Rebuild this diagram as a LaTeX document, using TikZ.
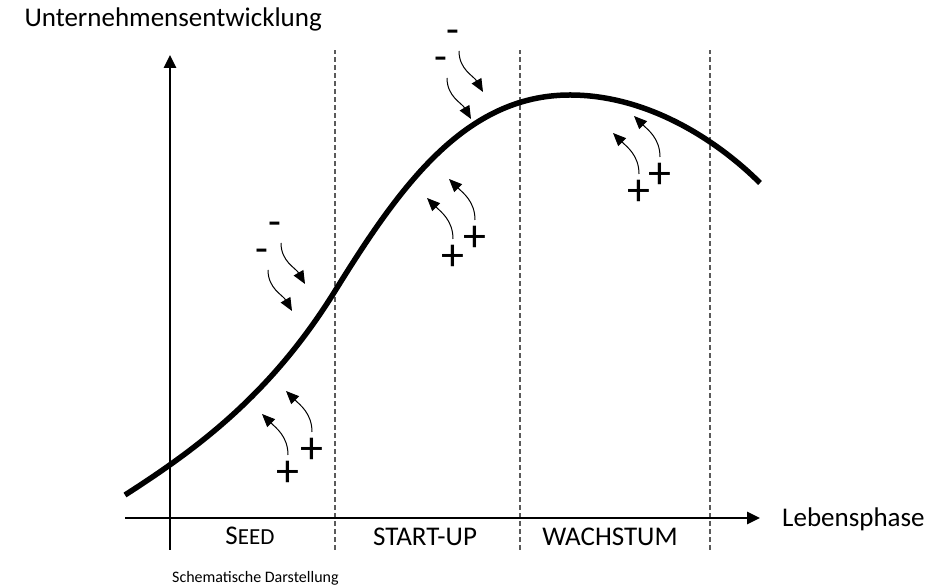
\documentclass[tikz,border=0pt]{standalone}
\usepackage{fontspec}
\setmainfont{Carlito}
\definecolor{dashgray}{RGB}{90, 90, 90}
\usetikzlibrary{arrows.meta, positioning}
\tikzset{
	axis/.style={line width=2.6pt, draw=black, -{Triangle[length=13pt, width=12pt]}},
	phaseline/.style={line width=1.1pt, draw=dashgray, dash pattern=on 5pt off 3pt},
	lifecurve/.style={line width=5.5pt, draw=black, line cap=butt},
	swirl/.style={line width=1pt, draw=black, -{Triangle[length=13pt, width=11pt]}},
	minus/.style={inner sep=0pt, font=\fontsize{42}{42}\selectfont},
	plus/.style={inner sep=0pt, font=\fontsize{46}{46}\selectfont},
	axislabel/.style={inner sep=0pt, font=\fontsize{27}{30}\selectfont},
	phaselabel/.style={inner sep=0pt, anchor=base, font=\fontsize{27}{30}\selectfont},
	note/.style={inner sep=0pt, anchor=base west, font=\fontsize{16}{19}\selectfont},
}
\begin{document}
\begin{tikzpicture}[x=1pt, y=1pt]
		\useasboundingbox (0,0) rectangle (933,588);
		% phases
		\draw[phaseline] (335,38) -- (335,538);
		\draw[phaseline] (520,38) -- (520,538);
		\draw[phaseline] (710,38) -- (710,538);
		% axes
		\coordinate (ybot) at (170,38);
		\coordinate (ytop) at (170,533);
		\coordinate (xleft) at (125,70);
		\coordinate (xright) at (760,70);
		\draw[axis] (ybot) -- (ytop);
		\draw[axis] (xleft) -- (xright);
		\node[axislabel, anchor=base east] (ylabel) at (322,561) {Unternehmensentwicklung};
		\node[axislabel, anchor=base west] (xlabel) at (782,61) {Lebensphase};
		% life cycle
		\draw[lifecurve] (125,93) .. controls (195,138) and (270,192) .. (335,297)
			.. controls (400,402) and (465,493) .. (570,493)
			.. controls (650,493) and (720,445) .. (760,405);
		\node[phaselabel] (seed) at (250,43) {S{\fontsize{23}{26}\selectfont EED}};
		\node[phaselabel] (startup) at (425,42) {START-UP};
		\node[phaselabel] (growth) at (610,42) {WACHSTUM};
		\node[note] (source) at (172,5) {Schematische Darstellung};
		% seed
		\node[minus] (minA1) at (275,359) {-};
		\node[minus] (minA2) at (262,332) {-};
		\draw[swirl] ([shift={(6,-14)}]minA1.center) to[out=-90, in=120] ++(24,-41);
		\draw[swirl] ([shift={(6,-14)}]minA2.center) to[out=-90, in=120] ++(24,-41);
		\node[plus] (plusB1) at (288,114) {+};
		\node[plus] (plusB2) at (312,137) {+};
		\draw[swirl] ([shift={(0,19)}]plusB1.center) to[out=90, in=-45] ++(-26,41);
		\draw[swirl] ([shift={(0,19)}]plusB2.center) to[out=90, in=-45] ++(-26,41);
		% start-up
		\node[minus] (minC1) at (453,551) {-};
		\node[minus] (minC2) at (441,524) {-};
		\draw[swirl] ([shift={(6,-14)}]minC1.center) to[out=-90, in=120] ++(24,-41);
		\draw[swirl] ([shift={(6,-14)}]minC2.center) to[out=-90, in=120] ++(24,-41);
		\node[plus] (plusD1) at (453,330) {+};
		\node[plus] (plusD2) at (475,349) {+};
		\draw[swirl] ([shift={(0,19)}]plusD1.center) to[out=90, in=-45] ++(-26,41);
		\draw[swirl] ([shift={(0,19)}]plusD2.center) to[out=90, in=-45] ++(-26,41);
		% growth
		\node[plus] (plusE1) at (639,395) {+};
		\node[plus] (plusE2) at (660,412) {+};
		\draw[swirl] ([shift={(0,19)}]plusE1.center) to[out=90, in=-45] ++(-26,41);
		\draw[swirl] ([shift={(0,19)}]plusE2.center) to[out=90, in=-45] ++(-26,41);
	\end{tikzpicture}
\end{document}
